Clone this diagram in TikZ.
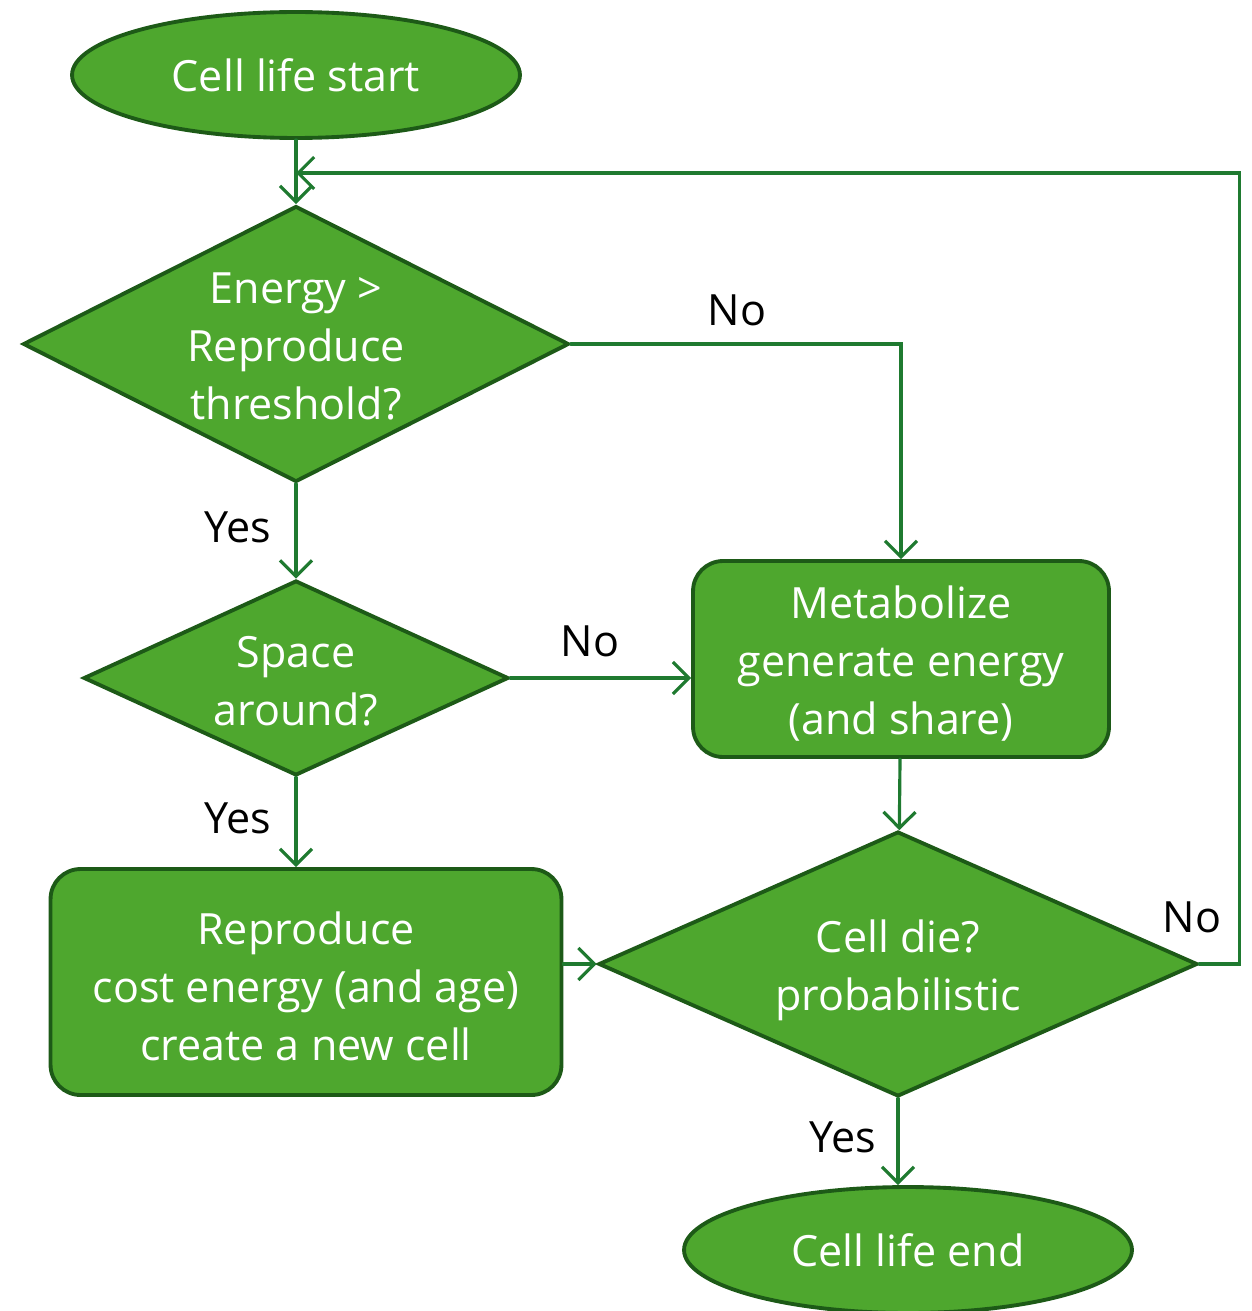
\documentclass[tikz,border=0pt]{standalone}
\usepackage{fontspec}
\setmainfont{Open Sans}
\usepackage{tikz}
\usetikzlibrary{arrows.meta,positioning,shapes.geometric}
\definecolor{cellgreen}{HTML}{4EA72E}
\definecolor{celledge}{HTML}{1D5A17}
\definecolor{cellline}{HTML}{1F7A30}
\tikzstyle{terminal} = [ellipse,draw=celledge,line width=2.2pt,fill=cellgreen,text=white,minimum width=8.96cm,minimum height=2.52cm,inner sep=0pt]
\tikzstyle{decision} = [diamond,draw=celledge,line width=2.2pt,fill=cellgreen,inner sep=0pt]
\tikzstyle{process} = [rectangle,rounded corners=0.6cm,draw=celledge,line width=2.2pt,fill=cellgreen,text=white,align=center,inner sep=0pt]
\tikzstyle{inside} = [text=white,align=center,inner sep=0pt]
\tikzstyle{answer} = [text=black,inner sep=0pt]
\tikzstyle{arrow} = [line width=1.8pt,draw=cellline,line cap=round,->,>={Straight Barb[length=3.2mm,width=6.4mm]}]

\begin{document}
\begin{tikzpicture}[x=0.02cm,y=-0.02cm,font=\fontsize{24.5}{33}\selectfont]
            \useasboundingbox (0,0) rectangle (1251,1311);
            \node[terminal] (start) at (296,75) {Cell life start};
            \node[decision,minimum width=10.92cm,minimum height=5.52cm] (energy) at (296,344) {};
            \node[inside] (energytext) at (296,346) {Energy >\\Reproduce\\threshold?};
            \node[decision,minimum width=8.5cm,minimum height=3.9cm] (space) at (296,678) {};
            \node[inside] (spacetext) at (296,681) {Space\\around?};
            \node[process,minimum width=8.32cm,minimum height=3.92cm] (metab) at (901,659) {};
            \node[inside] (metabtext) at (901,664) {Metabolize\\generate energy\\(and share)};
            \node[process,minimum width=10.22cm,minimum height=4.52cm] (repro) at (306,982) {};
            \node[inside] (reprotext) at (306,986) {Reproduce\\cost energy (and age)\\create a new cell};
            \node[decision,minimum width=11.98cm,minimum height=5.3cm] (die) at (898,964) {};
            \node[inside] (dietext) at (898,970) {Cell die?\\probabilistic};
            \node[terminal] (finish) at (908,1250) {Cell life end};
            \coordinate (loop) at (296,173);
            \draw[arrow] (start) -- (energy);
            \draw[arrow] (energy.east) -| (metab.north);
            \draw[arrow] (energy) -- (space);
            \draw[arrow] (space.east) -- (space.east -| metab.west);
            \draw[arrow] (space.south) -- (space.south |- repro.north);
            \draw[arrow] (metab) -- (die);
            \draw[arrow] (repro.east |- die.west) -- (die.west);
            \draw[arrow] (die.south) -- (die.south |- finish.north);
            \draw[arrow] (die.east) -- ++(40,0) |- (loop);
            \node[answer] (no1) at (737,310) {No};
            \node[answer] (yes1) at (238,527) {Yes};
            \node[answer] (no2) at (590,641) {No};
            \node[answer] (yes2) at (238,818) {Yes};
            \node[answer] (no3) at (1192,917) {No};
            \node[answer] (yes3) at (843,1137) {Yes};
        \end{tikzpicture}
\end{document}
